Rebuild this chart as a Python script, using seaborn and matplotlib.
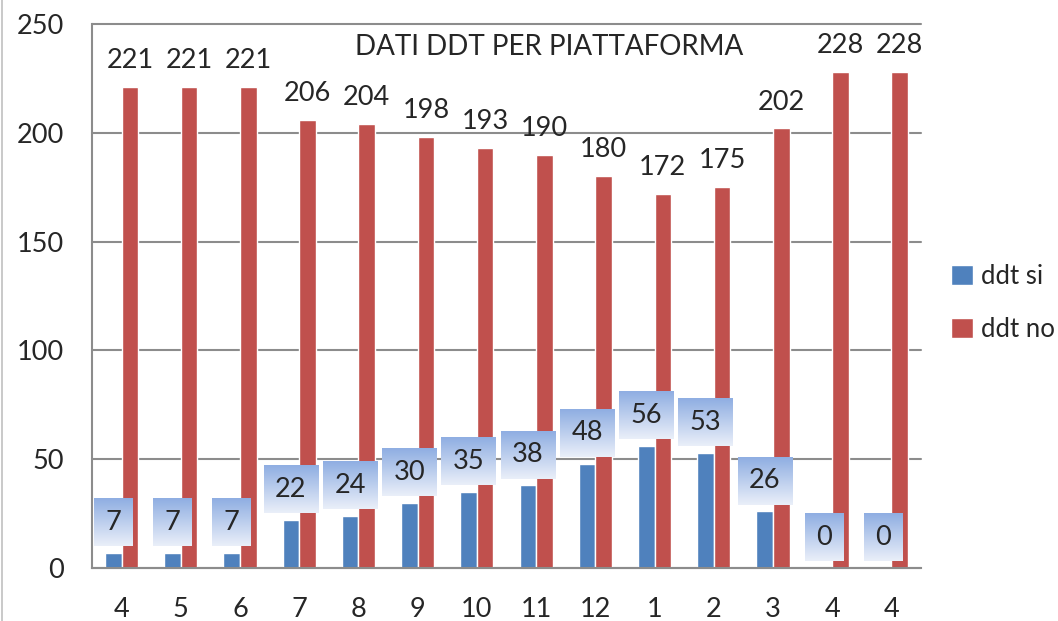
import numpy as np
import pandas as pd
import matplotlib
matplotlib.use("Agg")
import matplotlib.pyplot as plt
import seaborn as sns
from matplotlib.lines import Line2D

# Dati
mesi = ["4", "5", "6", "7", "8", "9", "10", "11", "12", "1", "2", "3", "4", "4"]
ddt_si = [7, 7, 7, 22, 24, 30, 35, 38, 48, 56, 53, 26, 0, 0]
ddt_no = [221, 221, 221, 206, 204, 198, 193, 190, 180, 172, 175, 202, 228, 228]
serie = ["ddt si", "ddt no"]
colori = ["#4F81BD", "#C0504D"]

n = len(mesi)
df = pd.DataFrame({
    "pos": list(range(n)) * 2,
    "valore": ddt_si + ddt_no,
    "serie": [serie[0]] * n + [serie[1]] * n,
})

sns.set_style("white")
plt.rcParams["font.family"] = ["Lato", "DejaVu Sans"]
GRIGIO = "#8c8c8c"
FS = 19.5

fig = plt.figure(figsize=(10.58, 6.21), dpi=100)
ax = fig.add_axes([92 / 1058, 1 - 568 / 621, (921 - 92) / 1058, (568 - 24) / 621])

sns.barplot(data=df, x="pos", y="valore", hue="serie", hue_order=serie,
            palette=colori, width=0.56, gap=0, saturation=1, ax=ax, zorder=2)

ax.set_xlim(-0.5, n - 0.5)
ax.set_ylim(0, 250)
ax.set_yticks(range(0, 251, 50))
ax.set_xticks(range(n))
ax.set_xticklabels(mesi)
ax.set_xticks(np.arange(-0.5, n, 1), minor=True)
ax.set_xlabel("")
ax.set_ylabel("")

# griglia e assi
ax.set_axisbelow(True)
ax.yaxis.grid(True, color=GRIGIO, lw=1.5)
for gl in ax.get_ygridlines():
    gl.set_clip_on(False)
for lato in ["top", "right"]:
    ax.spines[lato].set_visible(False)
for lato in ["left", "bottom"]:
    ax.spines[lato].set_color(GRIGIO)
    ax.spines[lato].set_linewidth(1.5)

ax.tick_params(axis="y", length=5, width=1.5, color=GRIGIO, pad=15, labelsize=FS)
ax.tick_params(axis="x", which="major", length=0, pad=21, labelsize=FS)
ax.tick_params(axis="x", which="minor", length=5, width=1.5, color=GRIGIO,
               direction="out")

# titolo dentro l'area del grafico
ax.text(0.552, 0.958, "DATI DDT PER PIATTAFORMA", transform=ax.transAxes,
        ha="center", va="center", fontsize=20)

# etichette serie rossa
ax.bar_label(ax.containers[1], padding=10, fontsize=FS, zorder=6)

# etichette serie blu dentro riquadri sfumati
etichette = ax.bar_label(ax.containers[0], padding=13, fontsize=FS, zorder=6,
                         bbox=dict(boxstyle="square,pad=0.42", fc="none", ec="none"))
fig.canvas.draw()
alto = np.array([0x8F, 0xAE, 0xE2]) / 255
basso = np.array([0xEA, 0xEF, 0xF9]) / 255
grad = np.linspace(0, 1, 64)[:, None, None]
img = alto * (1 - grad) + basso * grad
inv = ax.transData.inverted()
for et in etichette:
    bb = et.get_bbox_patch().get_window_extent()
    (x0, y0), (x1, y1) = inv.transform([[bb.x0, bb.y0], [bb.x1, bb.y1]])
    ax.imshow(img, extent=[x0, x1, y0, y1], aspect="auto", zorder=5,
              interpolation="bilinear")
ax.set_xlim(-0.5, n - 0.5)
ax.set_ylim(0, 250)

# legenda a destra
handles, labels = ax.get_legend_handles_labels()
ax.legend_.remove()
fig.legend(handles, labels, loc="center left",
           bbox_to_anchor=(928 / 1058, 1 - 303 / 621), frameon=False,
           fontsize=18.5, handlelength=0.85, handleheight=0.85,
           handletextpad=0.3, labelspacing=1.1)

# bordo sinistro del grafico
fig.add_artist(Line2D([2 / 1058, 2 / 1058], [0, 1], color="#c0c0c0", lw=1.2,
                      transform=fig.transFigure))

fig.savefig("out.png", dpi=100)
